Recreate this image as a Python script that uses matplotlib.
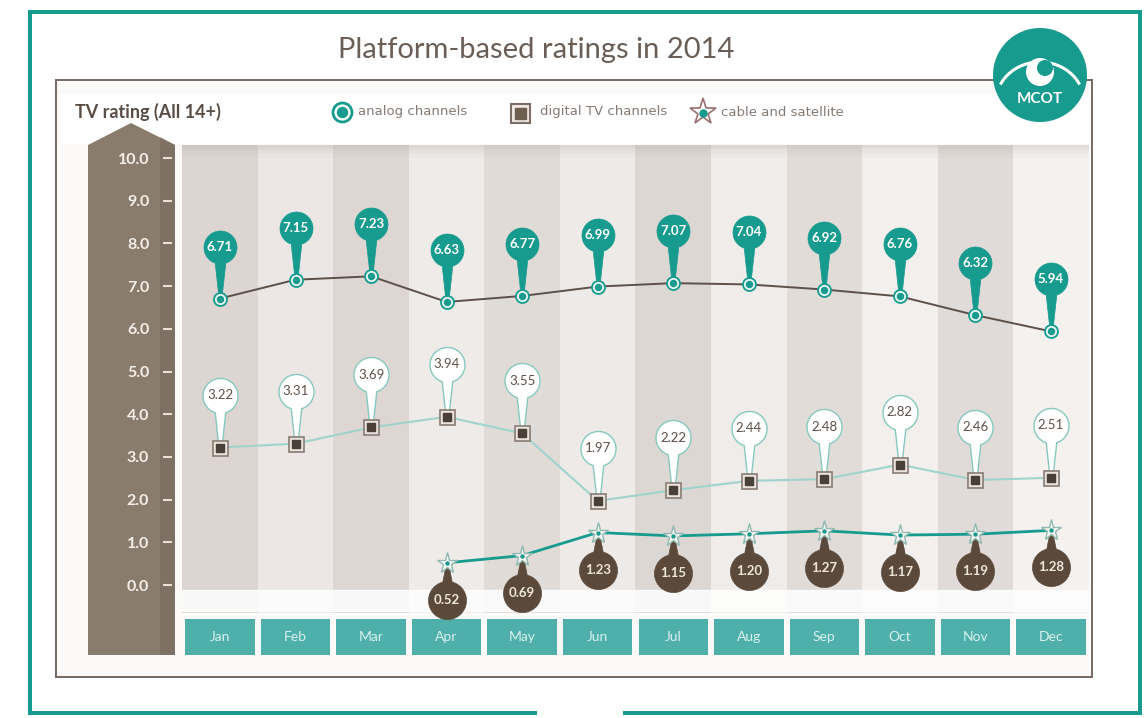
import numpy as np
import matplotlib
matplotlib.use('Agg')
import matplotlib.pyplot as plt
from matplotlib.path import Path
from matplotlib.markers import MarkerStyle
from matplotlib.patches import Rectangle, Polygon, Circle

plt.rcParams['font.family'] = ['Lato', 'DejaVu Sans']

months = ['Jan', 'Feb', 'Mar', 'Apr', 'May', 'Jun',
          'Jul', 'Aug', 'Sep', 'Oct', 'Nov', 'Dec']
analog = [6.71, 7.15, 7.23, 6.63, 6.77, 6.99, 7.07, 7.04, 6.92, 6.76, 6.32, 5.94]
digital = [3.22, 3.31, 3.69, 3.94, 3.55, 1.97, 2.22, 2.44, 2.48, 2.82, 2.46, 2.51]
cable = [np.nan, np.nan, np.nan, 0.52, 0.69, 1.23, 1.15, 1.20, 1.27, 1.17, 1.19, 1.28]
yticks = [0, 1, 2, 3, 4, 5, 6, 7, 8, 9, 10]

TEAL = '#169b8e'
TEAL_LIGHT = '#9fd4cc'
BOX_TEAL = '#4fb0ab'
BROWN = '#8a7c6c'
DARK_BROWN = '#5b4a3b'
GREY_TXT = '#6a5e57'
PT = 0.72  # points per pixel at dpi 100

W, H = 1148, 718
fig = plt.figure(figsize=(W / 100, H / 100), dpi=100)
fig.patch.set_facecolor('white')

# background canvas in pixel units
bg = fig.add_axes([0, 0, 1, 1], zorder=0)
bg.set_xlim(0, W)
bg.set_ylim(H, 0)
bg.axis('off')

# outer teal frame (gap at the bottom)
for xs, ys in [([30, 1140], [12, 12]), ([30, 30], [12, 713]), ([1140, 1140], [12, 713]),
               ([30, 535], [713, 713]), ([625, 1140], [713, 713])]:
    bg.plot(xs, ys, color=TEAL, lw=4 * PT, solid_capstyle='projecting')

# inner brown frame
bg.add_patch(Rectangle((56, 80), 1036, 597, facecolor='#fcfaf8', edgecolor='#7a6d65', lw=2 * PT))
bg.add_patch(Rectangle((59, 94), 1030, 50, facecolor='white', edgecolor='none'))

bg.text(536, 50, 'Platform-based ratings in 2014', fontsize=21, color=GREY_TXT,
        ha='center', va='center')
bg.text(75, 112, 'TV rating (All 14+)', fontsize=13, fontweight='bold', color='#5a4d46',
        ha='left', va='center')

# brown y-axis column
bg.add_patch(Polygon([(88, 655), (88, 145), (131, 123), (175, 145), (175, 655)],
                     closed=True, facecolor=BROWN, edgecolor='none'))
bg.add_patch(Polygon([(160, 655), (160, 137), (175, 145), (175, 655)],
                     closed=True, facecolor='#766a5d', edgecolor='none', alpha=0.6))

# MCOT logo
bg.add_patch(Circle((1040, 75), 47, facecolor=TEAL, edgecolor='none', zorder=5))
t = np.radians(np.linspace(28, 152, 50))
bg.plot(1040 + 44 * np.cos(t), 102 - 40 * np.sin(t), color='white', lw=2.2, zorder=6)
bg.add_patch(Circle((1040, 72), 14, facecolor='white', edgecolor='none', zorder=6))
bg.add_patch(Circle((1045, 68), 8, facecolor=TEAL, edgecolor='none', zorder=7))
bg.text(1040, 99, 'MCOT', fontsize=11, fontweight='bold', color='white',
        ha='center', va='center', zorder=7)

# legend
leg_font = dict(fontsize=9.5, color='#857b75', va='center', family='DejaVu Sans')
bg.plot(342, 112, marker='o', ms=19 * PT, mfc='white', mec=TEAL, mew=2)
bg.plot(342, 112, marker='o', ms=10 * PT, mfc=TEAL, mec=TEAL)
bg.text(358, 112, 'analog channels', **leg_font)
bg.plot(520, 113, marker='s', ms=19 * PT, mfc='#efe9e3', mec='#7c6e66', mew=1.5)
bg.plot(520, 113, marker='s', ms=11 * PT, mfc='#6e5e50', mec='#6e5e50')
bg.text(540, 112, 'digital TV channels', **leg_font)
bg.plot(703, 112, marker='*', ms=28 * PT, mfc='white', mec='#9a6f6f', mew=1.2)
bg.plot(703, 113, marker='o', ms=7 * PT, mfc=TEAL, mec=TEAL)
bg.text(721, 112, 'cable and satellite', **leg_font)

# main chart axes
x0, x1 = 182.2, 1088.8
y0, y1 = 143.1, 655.9
ax = fig.add_axes([x0 / W, 1 - y1 / H, (x1 - x0) / W, (y1 - y0) / H], zorder=1)
ax.set_facecolor('none')
ax.set_xlim(-0.5, 11.5)
ax.set_ylim(-1.66, 10.35)
x = np.arange(len(months))

col_colors = ['#dcd5d1', '#ece7e5', '#ddd6d2', '#efebe9', '#e1dbd8', '#eeeae8',
              '#ddd7d4', '#f0ecea', '#e2dcd9', '#f2efed', '#e0dad8', '#f4f1ef']
ax.bar(x, 10.95, bottom=-0.65, width=1.0, color=col_colors, zorder=0)
ax.axhspan(-0.62, -0.12, color='white', alpha=0.85, zorder=0.5)
for k, a in enumerate([0.25, 0.18, 0.12, 0.07, 0.03]):
    ax.axhspan(10.3 - 0.06 * (k + 1), 10.3 - 0.06 * k, color='#a89c95', alpha=a, zorder=0.6, lw=0)

# month boxes
ax.bar(x, 0.84, bottom=-1.64, width=0.92, color=BOX_TEAL, zorder=1)
for i, m in enumerate(months):
    ax.text(i, -1.22, m, ha='center', va='center', fontsize=10, color='#d8f1ee', zorder=2)


def pin_marker(c, neck, tip, down=False):
    # circle of radius 1 centred at (0, c) with a tapered stem ending at (0, 0)
    a = np.degrees(np.arcsin(neck))
    th = np.radians(np.linspace(-90 - a + 360, -90 + a, 80))
    pts = [(-tip, 0)] + [(np.cos(v), c + np.sin(v)) for v in th] + [(tip, 0), (-tip, 0)]
    pts = np.array(pts)
    if down:
        pts[:, 1] *= -1
    return MarkerStyle(Path(pts, closed=True))


def pin_size(c, r_px):
    return 2 * (c + 1) * r_px * PT


# lines
ax.plot(x, analog, color='#5d5049', lw=1.4, zorder=2)
ax.plot(x, digital, color=TEAL_LIGHT, lw=1.5, zorder=2)
ax.plot(x, cable, color=TEAL, lw=2.0, zorder=2)

# pins
ca, ra = 3.15, 16.5
ax.plot(x, analog, ls='none', marker=pin_marker(ca, 0.32, 0.08), ms=pin_size(ca, ra),
        mfc=TEAL, mec=TEAL, mew=0.5, zorder=3)
cd, rd = 3.0, 17.5
ax.plot(x, digital, ls='none', marker=pin_marker(cd, 0.3, 0.08), ms=pin_size(cd, rd),
        mfc='white', mec='#86c9bf', mew=1.0, zorder=3)
cc, rc = 1.95, 19
ax.plot(x, cable, ls='none', marker=pin_marker(cc, 0.25, 0.05, down=True), ms=pin_size(cc, rc),
        mfc=DARK_BROWN, mec=DARK_BROWN, mew=0.5, zorder=3)

# point markers
ax.plot(x, analog, ls='none', marker='o', ms=13 * PT, mfc='#e6f4f1', mec=TEAL, mew=1.3, zorder=4)
ax.plot(x, analog, ls='none', marker='o', ms=6 * PT, mfc=TEAL, mec=TEAL, zorder=4)
ax.plot(x, digital, ls='none', marker='s', ms=15 * PT, mfc='#e9e3de', mec='#8a7b72', mew=1.2, zorder=4)
ax.plot(x, digital, ls='none', marker='s', ms=8 * PT, mfc='#4b4038', mec='#4b4038', zorder=4)
ax.plot(x, cable, ls='none', marker='*', ms=22 * PT, mfc='#f7f5f2', mec='#8fb9b2', mew=1.0, zorder=4)
ax.plot(x, cable, ls='none', marker='o', ms=3 * PT, mfc=TEAL, mec=TEAL, zorder=4)

# pin labels
for i in range(len(months)):
    ax.annotate(f'{analog[i]:.2f}', (i, analog[i]), xytext=(0, ca * ra * PT),
                textcoords='offset points', ha='center', va='center', fontsize=9.5,
                fontweight='bold', color='white', zorder=5)
    ax.annotate(f'{digital[i]:.2f}', (i, digital[i]), xytext=(0, cd * rd * PT),
                textcoords='offset points', ha='center', va='center', fontsize=9.5,
                color='#5e5049', zorder=5)
    if not np.isnan(cable[i]):
        ax.annotate(f'{cable[i]:.2f}', (i, cable[i]), xytext=(0, -cc * rc * PT),
                    textcoords='offset points', ha='center', va='center', fontsize=9.5,
                    fontweight='bold', color='#efe6dc', zorder=5)

# y axis on the brown column
for s in ['top', 'right', 'bottom']:
    ax.spines[s].set_visible(False)
ax.spines['left'].set_position(('outward', 10 * PT))
ax.spines['left'].set_visible(False)
ax.set_yticks(yticks)
ax.set_yticklabels([f'{v:.1f}' for v in yticks])
ax.tick_params(axis='y', length=9 * PT, width=1.5, color='#e9e1d7', pad=14 * PT,
               labelcolor='#f3eee8', labelsize=11.5)
for lab in ax.get_yticklabels():
    lab.set_fontweight('bold')
ax.set_xticks([])

fig.savefig('out.png', dpi=100, facecolor='white')
